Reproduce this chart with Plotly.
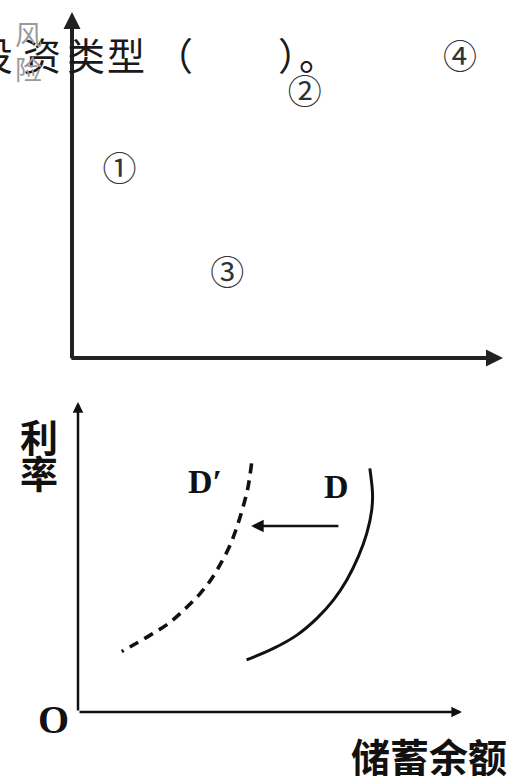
import plotly.graph_objects as go

# top panel: investment types, return (x) vs risk (y)
type_labels = ["①", "②", "③", "④"]
type_return = [1.1, 5.4, 3.6, 9.0]
type_risk = [5.35, 7.6, 2.35, 8.6]

# bottom panel: savings demand curves, savings balance (x) vs interest rate (y)
d_x = [7.60, 7.67, 7.65, 7.52, 7.30, 7.00, 6.65, 6.22, 5.70, 5.09, 4.39]
d_y = [7.86, 7.05, 6.52, 5.76, 5.01, 4.26, 3.61, 3.02, 2.48, 2.05, 1.68]
d2_x = [4.52, 4.43, 4.30, 4.13, 3.96, 3.74, 3.48, 3.18, 2.79, 2.35, 1.88, 1.44, 1.14]
d2_y = [8.02, 7.27, 6.62, 5.94, 5.38, 4.84, 4.30, 3.82, 3.33, 2.85, 2.48, 2.16, 1.95]

W, H = 516, 776
serif = "Liberation Serif, DejaVu Serif, serif"
cjk = "Noto Sans CJK SC"

fig = go.Figure()

fig.add_trace(go.Scatter(x=type_return, y=type_risk, mode="text", text=type_labels,
                         textfont=dict(family=cjk, size=34, color="#333"),
                         xaxis="x", yaxis="y", hoverinfo="skip"))

fig.add_trace(go.Scatter(x=d_x, y=d_y, mode="lines", line=dict(color="#111", width=3, shape="spline"),
                         xaxis="x2", yaxis="y2", hoverinfo="skip"))
fig.add_trace(go.Scatter(x=d2_x, y=d2_y, mode="lines",
                         line=dict(color="#111", width=3.6, shape="spline", dash="10px,7px"),
                         xaxis="x2", yaxis="y2", hoverinfo="skip"))

ax_common = dict(range=[0, 10], showgrid=False, zeroline=False, showticklabels=False,
                 showline=False, ticks="", fixedrange=True)

fig.update_layout(
    width=W, height=H,
    margin=dict(l=0, r=0, t=0, b=0),
    paper_bgcolor="white", plot_bgcolor="white",
    showlegend=False,
    xaxis=dict(domain=[72 / W, 503 / W], anchor="y", **ax_common),
    yaxis=dict(domain=[1 - 358 / H, 1 - 12 / H], anchor="x", **ax_common),
    xaxis2=dict(domain=[78 / W, 462 / W], anchor="y2", **ax_common),
    yaxis2=dict(domain=[1 - 712 / H, 1 - 402 / H], anchor="x2", **ax_common),
)

anns = []


def axis_arrow(xr, yr, x0, y0, x1, y1, width, color):
    return dict(x=x1, y=y1, ax=x0, ay=y0, xref=xr, yref=yr, axref=xr, ayref=yr,
                text="", showarrow=True, arrowhead=2, arrowsize=0.85, arrowwidth=width,
                arrowcolor=color, standoff=0, startstandoff=0)


def paper_text(px, py, txt, size, color="#111", family=cjk, xanchor="center"):
    return dict(x=px / W, y=1 - py / H, xref="paper", yref="paper", xanchor=xanchor, yanchor="middle",
                text=txt, showarrow=False, font=dict(family=family, size=size, color=color))


# axes with arrow tips
anns.append(axis_arrow("x", "y", 0, -0.05, 0, 10, 4, "#222"))
anns.append(axis_arrow("x", "y", -0.05, 0, 10, 0, 4, "#222"))
anns.append(axis_arrow("x2", "y2", 0, 0, 0, 10, 2.5, "#111"))
anns.append(axis_arrow("x2", "y2", 0, 0, 10, 0, 2.5, "#111"))

# shift arrow D -> D'
anns.append(dict(x=4.51, y=6.0, ax=6.82, ay=6.0, xref="x2", yref="y2", axref="x2", ayref="y2",
                 text="", showarrow=True, arrowhead=2, arrowsize=1, arrowwidth=2.5,
                 arrowcolor="#111", standoff=0))

# question text overlapping the top panel
for ch, cx in [("投", -6), ("资", 42), ("类", 86), ("型", 126)]:
    anns.append(paper_text(cx, 54, ch, 38, color="#1a1a1a"))
anns.append(paper_text(195, 54, "（", 38, color="#1a1a1a", xanchor="right"))
anns.append(paper_text(276, 54, "）", 38, color="#1a1a1a", xanchor="left"))
anns.append(paper_text(297, 54, "。", 38, color="#1a1a1a", xanchor="left"))

# axis labels
anns.append(paper_text(28, 51, "风<br>险", 27, color="#9a9a9a"))
anns.append(paper_text(39, 435, "<b>利</b>", 38))
anns.append(paper_text(39, 472, "<b>率</b>", 38))
anns.append(paper_text(429, 755, "<b>储蓄余额</b>", 39))
anns.append(paper_text(53, 719, "<b>O</b>", 40, family=serif))
anns.append(paper_text(205, 481, "<b>D′</b>", 34, family=serif))
anns.append(paper_text(336, 486, "<b>D</b>", 34, family=serif))

fig.update_layout(annotations=anns)

fig.write_html("out.html", config={"displayModeBar": False},
               post_script="document.body.style.margin='0';")
